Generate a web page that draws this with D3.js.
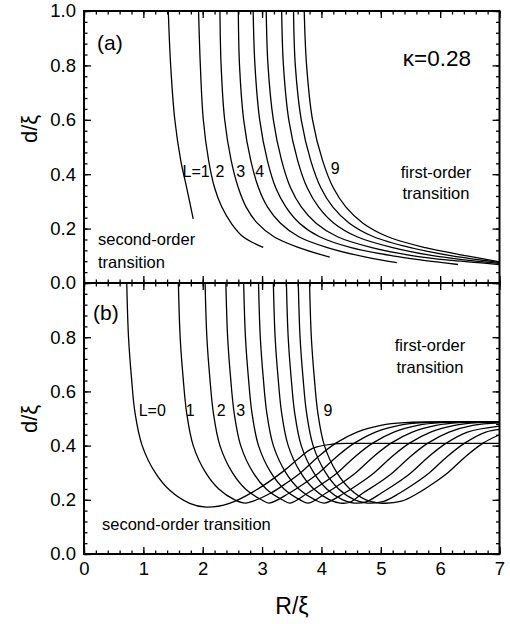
<!DOCTYPE html>
<html>
<head>
<meta charset="utf-8">
<script src="https://cdn.jsdelivr.net/npm/d3@7"></script>
<style>
  body { margin: 0; background: #fff; }
  text { font-family: "Liberation Sans", Arial, sans-serif; fill: #000; }
</style>
</head>
<body>
<div id="chart"></div>
<script>
// ---- datos (R/xi, d/xi) ----
// panel (a), kappa = 0.28, L = 1..9
var a_L1 = [[1.42,1.0],[1.46,0.8],[1.53,0.6],[1.63,0.45],[1.73,0.35],[1.84,0.236]];
var a_L2 = [[1.93,1.0],[1.96,0.8],[2.01,0.6],[2.10,0.45],[2.20,0.35],[2.32,0.28],[2.48,0.22],[2.68,0.17],[3.02,0.131]];
var a_L3 = [[2.29,1.0],[2.31,0.8],[2.37,0.6],[2.48,0.45],[2.60,0.35],[2.73,0.28],[2.92,0.22],[3.20,0.17],[3.62,0.13],[4.14,0.095]];
var a_L4 = [[2.60,1.0],[2.62,0.8],[2.69,0.6],[2.81,0.45],[2.94,0.35],[3.09,0.28],[3.31,0.22],[3.62,0.17],[4.10,0.13],[4.75,0.095],[5.27,0.075]];
var a_L5 = [[2.85,1.0],[2.88,0.8],[2.96,0.6],[3.09,0.45],[3.23,0.35],[3.40,0.28],[3.63,0.22],[3.97,0.17],[4.50,0.13],[5.20,0.10],[6.30,0.068]];
var a_L6 = [[3.07,1.0],[3.10,0.8],[3.19,0.6],[3.33,0.45],[3.48,0.35],[3.66,0.28],[3.91,0.22],[4.27,0.17],[4.85,0.13],[5.55,0.10],[6.20,0.083],[7.0,0.068]];
var a_L7 = [[3.33,1.0],[3.36,0.8],[3.45,0.6],[3.60,0.45],[3.76,0.35],[3.95,0.28],[4.21,0.22],[4.60,0.17],[5.20,0.13],[5.90,0.10],[7.0,0.072]];
var a_L8 = [[3.53,1.0],[3.56,0.8],[3.66,0.6],[3.82,0.45],[3.99,0.35],[4.19,0.28],[4.47,0.22],[4.88,0.17],[5.50,0.13],[6.20,0.10],[7.0,0.076]];
var a_L9 = [[3.71,1.0],[3.75,0.8],[3.85,0.6],[4.02,0.45],[4.20,0.35],[4.41,0.28],[4.70,0.22],[5.12,0.17],[5.75,0.13],[6.45,0.10],[7.0,0.078]];

// panel (b), L = 0..9
var b_L0 = [[0.72,1.0],[0.75,0.8],[0.80,0.65],[0.86,0.52],[0.98,0.40],[1.20,0.30],[1.44,0.236],[1.78,0.187],[2.06,0.173],[2.45,0.187],[2.90,0.236],[3.35,0.304],[3.60,0.35],[3.85,0.39],[4.20,0.406],[4.60,0.408],[7.0,0.408]];
var b_L1 = [[1.59,1.0],[1.62,0.8],[1.67,0.65],[1.73,0.52],[1.84,0.40],[2.05,0.30],[2.27,0.24],[2.54,0.20],[2.72,0.188],[2.85,0.195],[3.15,0.225],[3.40,0.26],[3.65,0.30],[3.95,0.36],[4.25,0.41],[4.60,0.45],[5.00,0.475],[5.40,0.485],[7.0,0.487]];
var b_L2 = [[2.04,1.0],[2.07,0.8],[2.12,0.65],[2.18,0.52],[2.29,0.40],[2.50,0.30],[2.72,0.24],[2.99,0.20],[3.12,0.188],[3.46,0.225],[3.71,0.26],[3.96,0.30],[4.26,0.36],[4.56,0.41],[4.91,0.45],[5.31,0.475],[5.71,0.485],[7.0,0.487]];
var b_L3 = [[2.39,1.0],[2.42,0.8],[2.47,0.65],[2.53,0.52],[2.64,0.40],[2.85,0.30],[3.07,0.24],[3.34,0.20],[3.47,0.188],[3.77,0.225],[4.02,0.26],[4.27,0.30],[4.57,0.36],[4.87,0.41],[5.22,0.45],[5.62,0.475],[6.02,0.485],[7.0,0.487]];
var b_L4 = [[2.69,1.0],[2.72,0.8],[2.77,0.65],[2.83,0.52],[2.94,0.40],[3.15,0.30],[3.37,0.24],[3.64,0.20],[3.78,0.188],[4.08,0.225],[4.33,0.26],[4.58,0.30],[4.88,0.36],[5.18,0.41],[5.53,0.45],[5.93,0.475],[6.33,0.485],[7.0,0.487]];
var b_L5 = [[2.94,1.0],[2.97,0.8],[3.02,0.65],[3.08,0.52],[3.19,0.40],[3.40,0.30],[3.62,0.24],[3.89,0.20],[4.05,0.188],[4.39,0.225],[4.64,0.26],[4.89,0.30],[5.19,0.36],[5.49,0.41],[5.84,0.45],[6.24,0.475],[6.64,0.485],[7.0,0.487]];
var b_L6 = [[3.19,1.0],[3.22,0.8],[3.27,0.65],[3.33,0.52],[3.44,0.40],[3.65,0.30],[3.87,0.24],[4.14,0.20],[4.32,0.188],[4.48,0.191],[4.70,0.225],[4.95,0.26],[5.20,0.30],[5.50,0.36],[5.80,0.41],[6.15,0.45],[6.55,0.475],[7.0,0.484]];
var b_L7 = [[3.41,1.0],[3.44,0.8],[3.49,0.65],[3.55,0.52],[3.66,0.40],[3.87,0.30],[4.09,0.24],[4.36,0.20],[4.55,0.188],[4.75,0.192],[5.01,0.225],[5.26,0.26],[5.51,0.30],[5.81,0.36],[6.11,0.41],[6.46,0.45],[7.0,0.472]];
var b_L8 = [[3.61,1.0],[3.64,0.8],[3.69,0.65],[3.75,0.52],[3.86,0.40],[4.07,0.30],[4.29,0.24],[4.56,0.20],[4.78,0.188],[5.05,0.194],[5.32,0.225],[5.57,0.26],[5.82,0.30],[6.12,0.36],[6.42,0.41],[6.77,0.45],[7.0,0.46]];
var b_L9 = [[3.80,1.0],[3.83,0.8],[3.88,0.65],[3.94,0.52],[4.05,0.40],[4.26,0.30],[4.48,0.24],[4.75,0.20],[4.98,0.188],[5.35,0.195],[5.63,0.225],[5.88,0.26],[6.13,0.30],[6.43,0.36],[6.73,0.41],[7.0,0.44]];

var curvesA = [a_L1, a_L2, a_L3, a_L4, a_L5, a_L6, a_L7, a_L8, a_L9];
var curvesB = [b_L0, b_L1, b_L2, b_L3, b_L4, b_L5, b_L6, b_L7, b_L8, b_L9];

var xTicks = [0, 1, 2, 3, 4, 5, 6, 7];
var yTicks = [0.0, 0.2, 0.4, 0.6, 0.8, 1.0];

// etiquetas dentro de los paneles
var labelsA = [
  {t: "L=1", r: 1.89, d: 0.41}, {t: "2", r: 2.29, d: 0.41}, {t: "3", r: 2.64, d: 0.41},
  {t: "4", r: 2.96, d: 0.41}, {t: "9", r: 4.23, d: 0.42}
];
var labelsB = [
  {t: "L=0", r: 1.15, d: 0.53}, {t: "1", r: 1.79, d: 0.53}, {t: "2", r: 2.31, d: 0.53},
  {t: "3", r: 2.64, d: 0.53}, {t: "9", r: 4.11, d: 0.53}
];

// ---- dibujo ----
var width = 510, height = 624;
var left = 84, right = 499.5;
var topA = 11, mid = 283, botB = 554;

var svg = d3.select("#chart").append("svg")
  .attr("width", width).attr("height", height)
  .style("background", "#fff");

var x = d3.scaleLinear().domain([0, 7]).range([left, right]);
var yA = d3.scaleLinear().domain([0, 1]).range([mid, topA]);
var yB = d3.scaleLinear().domain([0, 1]).range([botB, mid]);

var minorX = d3.range(0, 7.001, 0.2);
var minorY = d3.range(0, 1.001, 0.04);

function drawPanel(y, curves, name, showX, showTop) {
  var g = svg.append("g");

  svg.append("clipPath").attr("id", "clip" + name)
    .append("rect")
    .attr("x", left).attr("y", y(1))
    .attr("width", right - left).attr("height", y(0) - y(1));

  var line = d3.line()
    .x(function (d) { return x(d[0]); })
    .y(function (d) { return y(d[1]); })
    .curve(d3.curveCatmullRom.alpha(0.5));

  g.append("g").attr("clip-path", "url(#clip" + name + ")")
    .selectAll("path")
    .data(curves)
    .enter()
    .append("path")
    .attr("d", line)
    .attr("fill", "none")
    .attr("stroke", "#000")
    .attr("stroke-width", 1.3);

  // ejes con marcas hacia dentro
  var ax = [
    {a: d3.axisBottom(x).tickValues(xTicks).tickSize(-7), t: "translate(0," + y(0) + ")", lab: showX, fmt: d3.format("d")},
    {a: d3.axisBottom(x).tickValues(minorX).tickSize(-3.5), t: "translate(0," + y(0) + ")", lab: false},
    {a: d3.axisTop(x).tickValues(xTicks).tickSize(-7), t: "translate(0," + y(1) + ")", lab: false},
    {a: d3.axisTop(x).tickValues(minorX).tickSize(-3.5), t: "translate(0," + y(1) + ")", lab: false},
    {a: d3.axisLeft(y).tickValues(showTop ? yTicks : yTicks.slice(0, 5)).tickSize(-7), t: "translate(" + left + ",0)", lab: true, fmt: d3.format(".1f")},
    {a: d3.axisLeft(y).tickValues(minorY).tickSize(-3.5), t: "translate(" + left + ",0)", lab: false},
    {a: d3.axisRight(y).tickValues(yTicks).tickSize(-7), t: "translate(" + right + ",0)", lab: false},
    {a: d3.axisRight(y).tickValues(minorY).tickSize(-3.5), t: "translate(" + right + ",0)", lab: false}
  ];
  ax.forEach(function (o) {
    if (!o.lab) o.a.tickFormat("");
    else o.a.tickFormat(o.fmt);
    var ga = g.append("g").attr("transform", o.t).call(o.a.tickPadding(8));
    ga.select(".domain").remove();
    ga.selectAll("line").attr("stroke", "#000").attr("stroke-width", 1.3);
    ga.selectAll("text").style("font-family", "Liberation Sans, Arial, sans-serif")
      .style("font-size", "18.5px").attr("fill", "#000");
  });

  g.append("rect")
    .attr("x", left).attr("y", y(1))
    .attr("width", right - left).attr("height", y(0) - y(1))
    .attr("fill", "none").attr("stroke", "#000").attr("stroke-width", 2);

  return g;
}

var gA = drawPanel(yA, curvesA, "A", false, true);
var gB = drawPanel(yB, curvesB, "B", true, false);

function addLabels(g, y, labels) {
  g.selectAll("text.lab").data(labels).enter()
    .append("text").attr("class", "lab")
    .attr("x", function (d) { return x(d.r); })
    .attr("y", function (d) { return y(d.d); })
    .attr("dy", "0.35em")
    .attr("text-anchor", "middle")
    .style("font-size", "16px")
    .text(function (d) { return d.t; });
}
addLabels(gA, yA, labelsA);
addLabels(gB, yB, labelsB);

function addText(t, px, py, size, anchor) {
  svg.append("text").attr("x", px).attr("y", py)
    .attr("text-anchor", anchor || "start")
    .style("font-size", size + "px").text(t);
}
// panel (a)
addText("(a)", 97, 50, 21);
addText("\u03BA=0.28", 471, 66, 22.5, "end");
addText("first-order", 436, 178, 16.5, "middle");
addText("transition", 436, 199, 16.5, "middle");
addText("second-order", 98, 245, 16.5);
addText("transition", 98, 268, 16.5);
// panel (b)
addText("(b)", 93, 320, 21);
addText("first-order", 430, 351, 16.5, "middle");
addText("transition", 430, 373, 16.5, "middle");
addText("second-order transition", 102, 530, 16.5);

// titulos de ejes
svg.append("text").attr("transform", "translate(37,129) rotate(-90)")
  .attr("text-anchor", "middle").style("font-size", "22px").text("d/\u03BE");
svg.append("text").attr("transform", "translate(37,419) rotate(-90)")
  .attr("text-anchor", "middle").style("font-size", "22px").text("d/\u03BE");
svg.append("text").attr("x", 292).attr("y", 614)
  .attr("text-anchor", "middle").style("font-size", "23px").text("R/\u03BE");
</script>
</body>
</html>
